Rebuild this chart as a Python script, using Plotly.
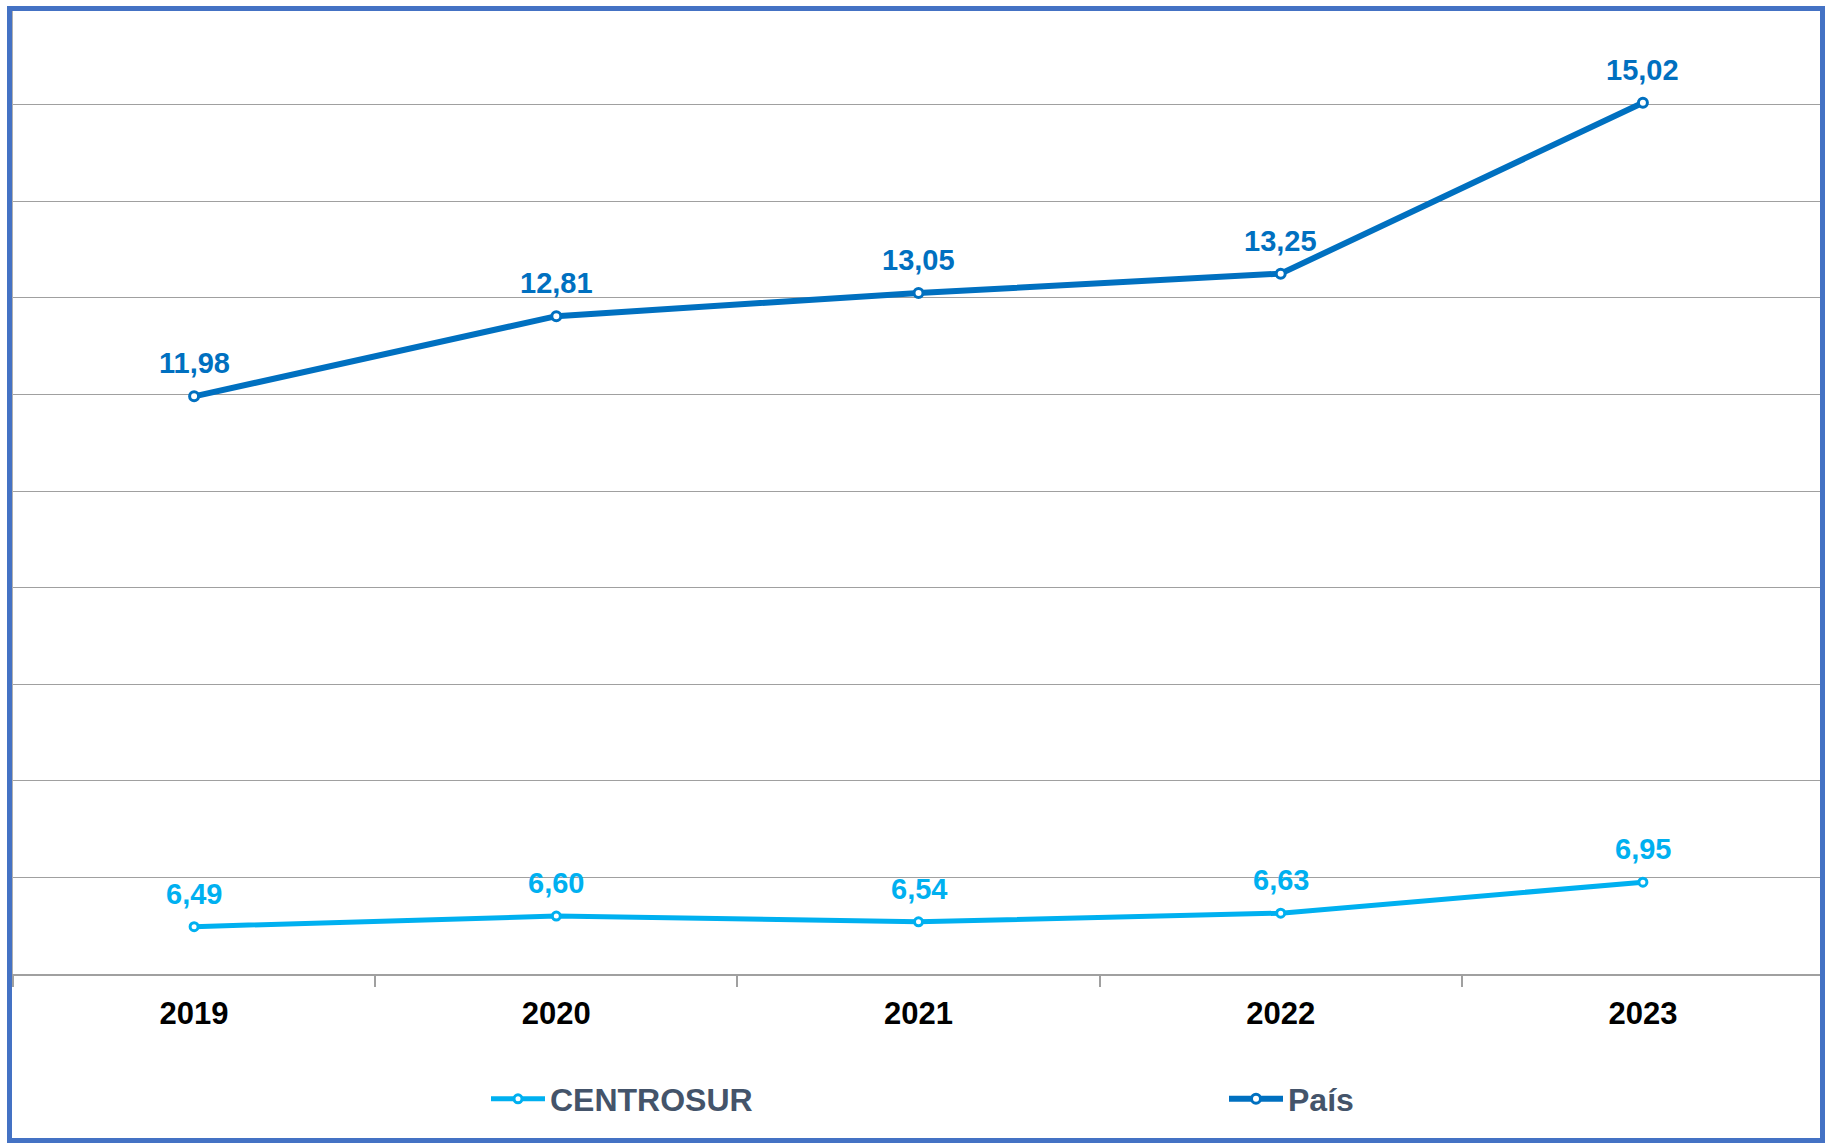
import plotly.graph_objects as go

years = ["2019", "2020", "2021", "2022", "2023"]
centrosur = [6.49, 6.60, 6.54, 6.63, 6.95]
pais = [11.98, 12.81, 13.05, 13.25, 15.02]

C_CENTRO = "#00B0F0"
C_PAIS = "#0070C0"
FONT = "Liberation Sans, Arial, sans-serif"

W, H = 1825, 1143
ML, MR, MT, MB = 13, 1, 8, 169
PW, PH = W - ML - MR, H - MT - MB


def fmt(v):
    return f"{v:.2f}".replace(".", ",")


def px2paper_x(px):
    return (px - ML) / PW


def px2paper_y(py):
    return (H - MB - py) / PH


fig = go.Figure()
fig.add_trace(go.Scatter(
    x=years, y=centrosur, name="CENTROSUR", mode="lines+markers",
    line=dict(color=C_CENTRO, width=5),
    marker=dict(size=8, color="white", line=dict(color=C_CENTRO, width=3)),
    legend="legend",
))
fig.add_trace(go.Scatter(
    x=years, y=pais, name="País", mode="lines+markers",
    line=dict(color=C_PAIS, width=6),
    marker=dict(size=9, color="white", line=dict(color=C_PAIS, width=3)),
    legend="legend2",
))

annotations = []
for series, color in ((centrosur, C_CENTRO), (pais, C_PAIS)):
    for i, v in enumerate(series):
        annotations.append(dict(
            x=i, y=v, xref="x", yref="y", text=fmt(v), showarrow=False,
            yanchor="bottom", yshift=15,
            font=dict(family=FONT, size=29, color=color, weight="bold"),
        ))

border = dict(
    type="rect", xref="paper", yref="paper",
    x0=px2paper_x(9.5), x1=px2paper_x(1822.5),
    y0=px2paper_y(1140.5), y1=px2paper_y(8.5),
    line=dict(color="#4472C4", width=5), fillcolor="rgba(0,0,0,0)", layer="above",
)

legend_common = dict(
    orientation="h", xanchor="left", y=px2paper_y(1099), yanchor="middle",
    font=dict(family=FONT, size=32, color="#44546A", weight="bold"),
    itemwidth=54, bgcolor="rgba(0,0,0,0)",
)

fig.update_layout(
    width=W, height=H,
    margin=dict(l=ML, r=MR, t=MT, b=MB, pad=0),
    paper_bgcolor="white", plot_bgcolor="white",
    showlegend=True,
    legend=dict(x=px2paper_x(486), **legend_common),
    legend2=dict(x=px2paper_x(1224), **legend_common),
    xaxis=dict(
        type="category", range=[-0.5, 4.5],
        showgrid=False, showline=True, linecolor="#A0A0A0", linewidth=1.5,
        ticks="outside", tickson="boundaries", ticklen=11, tickcolor="#A0A0A0", tickwidth=1.5,
        tickfont=dict(family=FONT, size=31, color="black", weight="bold"),
        ticklabelstandoff=11,
    ),
    yaxis=dict(
        range=[6, 16], dtick=1, tick0=6,
        showgrid=True, gridcolor="#A0A0A0", gridwidth=1,
        showticklabels=False, ticks="",
        showline=True, linecolor="#B0B0B0", linewidth=3,
        zeroline=False,
    ),
    annotations=annotations,
    shapes=[border],
    separators=",.",
)

fig.write_html(
    "out.html",
    config={"displayModeBar": False},
    post_script="document.body.style.margin='0';document.body.style.overflow='hidden';",
)
